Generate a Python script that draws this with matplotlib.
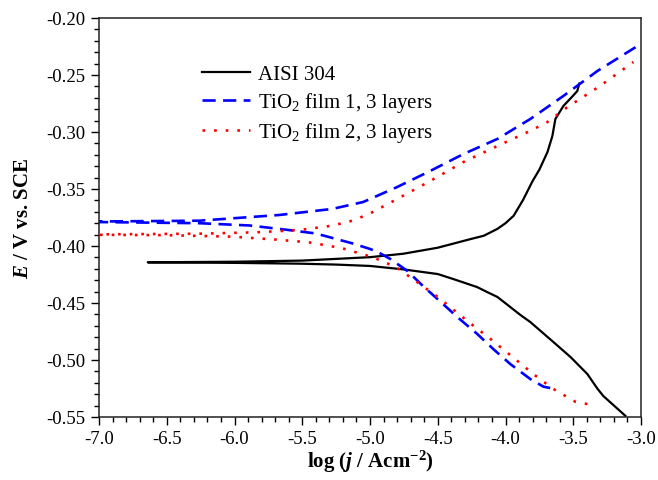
import matplotlib
matplotlib.use("Agg")
import matplotlib.pyplot as plt
from matplotlib.ticker import MultipleLocator, FixedLocator, FixedFormatter

plt.rcParams['font.family'] = ['Liberation Serif', 'DejaVu Serif']
plt.rcParams['mathtext.fontset'] = 'custom'
plt.rcParams['mathtext.rm'] = 'Liberation Serif'
plt.rcParams['mathtext.it'] = 'Liberation Serif:italic'
plt.rcParams['mathtext.bf'] = 'Liberation Serif:bold'
plt.rcParams['mathtext.bfit'] = 'Liberation Serif:italic:bold'
plt.rcParams['axes.unicode_minus'] = False

# ---- data (log j, E) ----
aisi_cath_x = [-3.115, -3.278, -3.32, -3.396, -3.52, -3.647, -3.817, -3.89, -3.965, -4.06, -4.135, -4.21,
               -4.385, -4.5, -4.755, -5.0, -5.25, -5.52, -6.0, -6.64]
aisi_cath_y = [-0.549, -0.5316, -0.5254, -0.5123, -0.4974, -0.4842, -0.4667, -0.4605, -0.4535, -0.4447, -0.4404, -0.436,
               -0.429, -0.4246, -0.4205, -0.4175, -0.4163, -0.4155, -0.4148, -0.4143]
aisi_anod_x = [-6.64, -6.0, -5.5, -5.0, -4.755, -4.5, -4.26, -4.16, -4.06, -4.0, -3.94, -3.87, -3.80,
               -3.75, -3.69, -3.654, -3.632, -3.573, -3.50, -3.47, -3.455]
aisi_anod_y = [-0.4143, -0.4138, -0.4128, -0.4098, -0.4068, -0.4015, -0.394, -0.391, -0.385, -0.380, -0.3735, -0.3595, -0.343,
               -0.333, -0.3175, -0.3035, -0.2886, -0.2772, -0.268, -0.264, -0.2575]

tio1_cath_x = [-3.67, -3.72, -3.817, -3.965, -4.09, -4.21, -4.356, -4.46, -4.61, -4.725, -4.85,
               -4.947, -5.0, -5.13, -5.40, -5.62, -5.89, -6.26, -7.0]
tio1_cath_y = [-0.5246, -0.5234, -0.5167, -0.5035, -0.4904, -0.477, -0.4623, -0.451, -0.435, -0.4218, -0.4114,
               -0.405, -0.4026, -0.3977, -0.389, -0.3857, -0.382, -0.380, -0.379]
tio1_anod_x = [-7.0, -6.26, -5.67, -5.28, -5.05, -4.80, -4.556, -4.31, -4.06, -3.817, -3.573, -3.322, -3.04]
tio1_anod_y = [-0.3785, -0.3778, -0.3728, -0.3675, -0.3614, -0.3483, -0.3342, -0.3193, -0.3061, -0.2886,
               -0.2684, -0.2465, -0.2256]

tio2_cath_x = [-3.396, -3.485, -3.647, -3.795, -3.95, -4.11, -4.275, -4.42, -4.50, -4.666, -4.81,
               -4.98, -5.21, -5.45, -5.69, -6.02, -6.5, -7.0]
tio2_cath_y = [-0.5386, -0.5366, -0.5254, -0.5123, -0.4971, -0.4816, -0.4664, -0.4524, -0.4447, -0.4304, -0.4184,
               -0.4098, -0.4018, -0.3968, -0.3944, -0.3918, -0.3905, -0.3902]
tio2_anod_x = [-7.0, -6.26, -5.84, -5.52, -5.28, -5.13, -5.0, -4.80, -4.556, -4.31, -4.06, -3.817,
               -3.694, -3.546, -3.30, -3.056]
tio2_anod_y = [-0.3898, -0.3892, -0.388, -0.386, -0.3822, -0.3778, -0.3715, -0.3588, -0.343, -0.3263, -0.3123,
               -0.299, -0.2915, -0.2784, -0.2594, -0.2386]

labels = ['AISI 304', r'TiO$_2$ film 1, 3 layers', r'TiO$_2$ film 2, 3 layers']
x_ticks = [-7.0, -6.5, -6.0, -5.5, -5.0, -4.5, -4.0, -3.5, -3.0]
x_ticklabels = ['-7.0', '-6.5', '-6.0', '-5.5', '-5.0', '-4.5', '-4.0', '-3.5', '-3.0']
y_ticks = [-0.55, -0.50, -0.45, -0.40, -0.35, -0.30, -0.25, -0.20]
y_ticklabels = ['-0.55', '-0.50', '-0.45', '-0.40', '-0.35', '-0.30', '-0.25', '-0.20']

fig = plt.figure(figsize=(6.58, 4.81), dpi=100)
ax = fig.add_axes([99/658, 1-418/481, (641-99)/658, (418-19)/481])

ax.plot(aisi_cath_x + aisi_anod_x, aisi_cath_y + aisi_anod_y, color='black', lw=1.6,
        solid_joinstyle='round', label=labels[0])
ax.plot(tio1_cath_x + tio1_anod_x, tio1_cath_y + tio1_anod_y, color='#0000ff', lw=1.9,
        linestyle=(0, (5.0, 2.8)), label=labels[1])
ax.plot(tio2_cath_x + tio2_anod_x, tio2_cath_y + tio2_anod_y, color='#ff0000', lw=1.9,
        linestyle=(0, (1.0, 3.4)), label=labels[2])

ax.set_xlim(-7.0, -3.0)
ax.set_ylim(-0.55, -0.20)
ax.xaxis.set_major_locator(FixedLocator(x_ticks))
ax.xaxis.set_major_formatter(FixedFormatter(x_ticklabels))
ax.yaxis.set_major_locator(FixedLocator(y_ticks))
ax.yaxis.set_major_formatter(FixedFormatter(y_ticklabels))
ax.xaxis.set_minor_locator(MultipleLocator(0.1))
ax.yaxis.set_minor_locator(MultipleLocator(0.01))
ax.tick_params(which='both', direction='out', top=False, right=False, labelsize=13.5, width=1.0,
               color='black', labelcolor='black')
ax.tick_params(which='major', length=6)
ax.tick_params(which='minor', length=3.5)
ax.tick_params(axis='x', pad=3)
for s in ax.spines.values():
    s.set_linewidth(1.1)
    s.set_color('#222222')

ax.set_xlabel(r'log ($\mathbfit{j}$ / Acm$^{\mathbf{-2}}$)', fontsize=15, fontweight='bold', labelpad=1)
ax.set_ylabel(r'$\mathbfit{E}$ / V vs. SCE', fontsize=15, fontweight='bold', labelpad=10)

leg = ax.legend(loc='upper left', bbox_to_anchor=(0.175, 0.905), frameon=False, fontsize=15,
                handlelength=2.3, handletextpad=0.4, labelspacing=0.3, borderaxespad=0)

fig.savefig('out.png', dpi=100)
